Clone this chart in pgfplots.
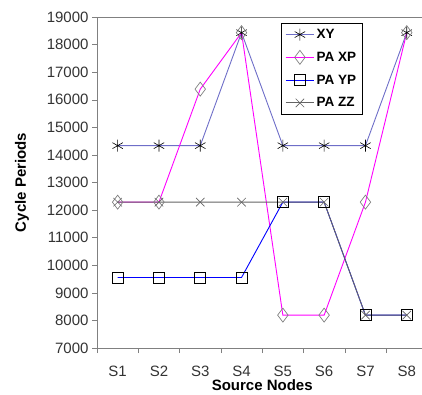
\documentclass[border=0pt]{standalone}
\usepackage{fontspec}
\setmainfont{Liberation Sans}
\usepackage{pgfplots}
\pgfplotsset{compat=1.18}
\definecolor{xyc}{RGB}{110,110,200}
\definecolor{axg}{RGB}{128,128,128}
\definecolor{zzc}{RGB}{100,100,100}
\definecolor{pb}{RGB}{0,0,255}
\definecolor{pm}{RGB}{255,0,255}
\begin{document}
\begin{tikzpicture}[x=1pt,y=1pt]
\begin{axis}[
  at={(97pt,46pt)}, anchor=south west,
  scale only axis, width=330.4pt, height=331pt,
  xmin=-0.5, xmax=7.5, ymin=7000, ymax=19000,
  ytick={7000,8000,...,19000},
  xtick={0,...,7},
  xticklabels={S1,S2,S3,S4,S5,S6,S7,S8},
  major x tick style={draw=none},
  minor xtick={-0.5,0.5,...,7.5},
  tick align=outside,
  major tick length=5pt, minor tick length=5pt,
  ytick pos=left, xtick pos=bottom,
  axis line style={axg},
  every tick/.style={axg},
  y tick label style={/pgf/number format/.cd, 1000 sep={}},
  /pgf/number format/assume math mode=true,
  tick label style={font=\fontsize{15}{17}\selectfont, text=black!80},
  xticklabel style={yshift=-9pt},
  scaled y ticks=false,
  xlabel={\textbf{Source Nodes}}, ylabel={\textbf{Cycle Periods}},
  label style={font=\fontsize{15}{17}\selectfont},
  xlabel style={at={(axis description cs:0.5,-0.112)}, anchor=center},
  ylabel style={at={(axis description cs:-0.227,0.5)}, anchor=center, rotate=0},
  legend style={at={(axis description cs:0.557,0.982)}, anchor=north west,
    draw=black, fill=white, font=\fontsize{13.5}{15}\selectfont\bfseries,
    row sep=8pt, inner sep=4pt},
  legend cell align=left,
  legend image code/.code={
    \draw[mark repeat=2,mark phase=2] plot coordinates {(0cm,0cm) (0.5cm,0cm) (1.0cm,0cm)};},
]
\addplot[color=xyc, line width=0.9pt, mark=asterisk, mark size=6pt, mark options={draw=black, line width=0.6pt}]
  coordinates {(0,14336) (1,14336) (2,14336) (3,18432) (4,14336) (5,14336) (6,14336) (7,18432)};
\addlegendentry{XY}
\addplot[color=pm, line width=0.9pt, mark=diamond, mark size=7pt, mark options={draw=axg, line width=0.7pt, fill=none}]
  coordinates {(0,12288) (1,12288) (2,16384) (3,18432) (4,8192) (5,8192) (6,12288) (7,18432)};
\addlegendentry{PA XP}
\addplot[color=pb, line width=0.9pt, mark=square, mark size=5.5pt, mark options={draw=black, line width=0.7pt, fill=none}]
  coordinates {(0,9557) (1,9557) (2,9557) (3,9557) (4,12288) (5,12288) (6,8192) (7,8192)};
\addlegendentry{PA YP}
\addplot[color=zzc, line width=0.9pt, mark=x, mark size=6pt, mark options={draw=zzc, line width=0.6pt}]
  coordinates {(0,12288) (1,12288) (2,12288) (3,12288) (4,12288) (5,12288) (6,8192) (7,8192)};
\addlegendentry{PA ZZ}
\end{axis}
\pgfresetboundingbox
\useasboundingbox (0,0) rectangle (422pt,394pt);
\end{tikzpicture}
\end{document}
